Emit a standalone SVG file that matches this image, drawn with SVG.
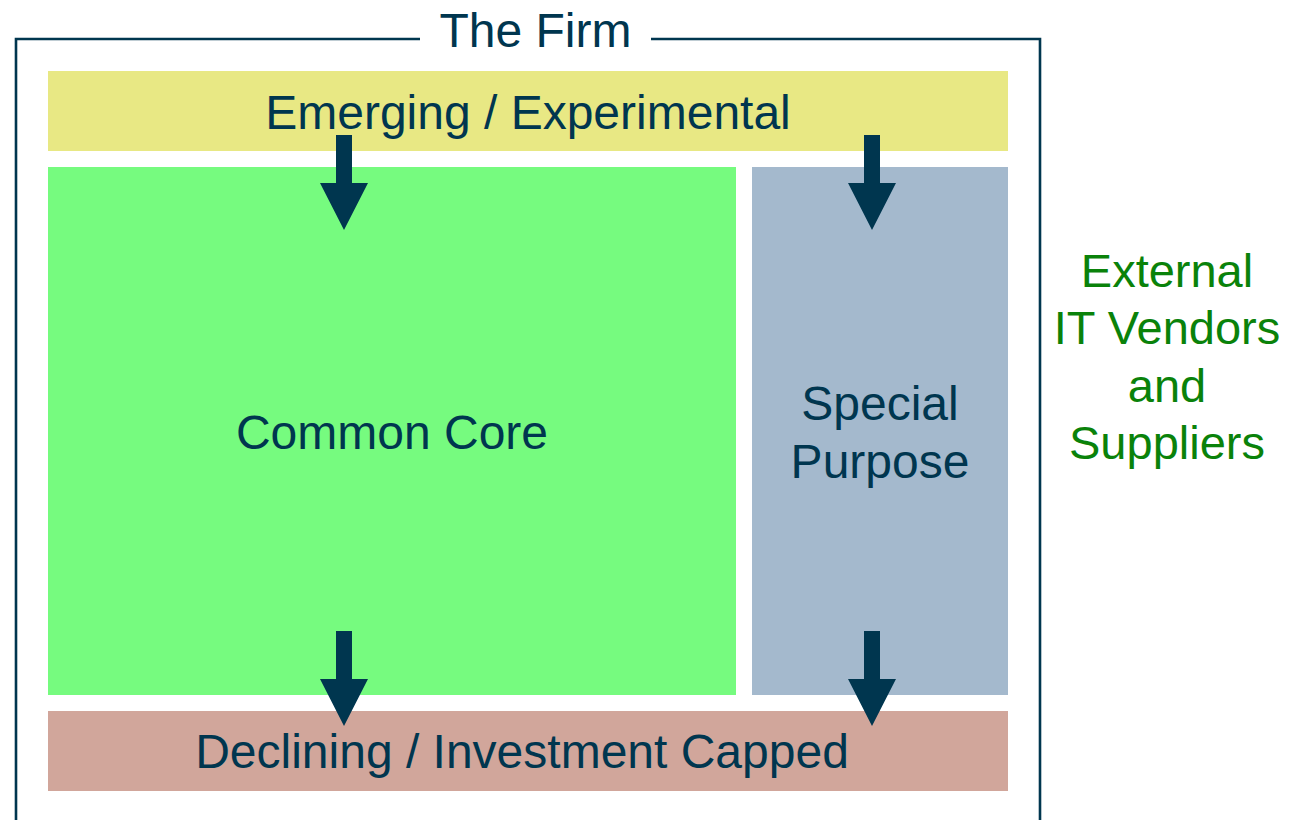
<svg xmlns="http://www.w3.org/2000/svg" width="1303" height="820" viewBox="0 0 1303 820">
  <defs>
    <style>
      .lbl { font-family: "Liberation Sans", Arial, sans-serif; font-size: 48px; fill: #00364F; text-anchor: middle; }
      .ext { font-family: "Liberation Sans", Arial, sans-serif; font-size: 47px; fill: #0A820A; text-anchor: middle; }
      .frame { fill: none; stroke: #00364F; stroke-width: 2.6; }
      .arrow { fill: #00364F; }
    </style>
    <path id="arr" d="M -8 0 H 8 V 48 H 24 L 0 95 L -24 48 H -8 Z"/>
  </defs>
  <rect width="1303" height="820" fill="#FFFFFF"/>

  <g id="firm">
    <path class="frame" d="M 420 39 H 16 V 830 M 651 39 H 1040 V 830"/>
    <text class="lbl" x="535.5" y="47">The Firm</text>
  </g>

  <g id="emerging">
    <rect x="48" y="71" width="960" height="80" fill="#E8E884"/>
    <text class="lbl" x="528" y="129">Emerging / Experimental</text>
  </g>

  <g id="common-core">
    <rect x="48" y="167" width="688" height="528" fill="#76FB7F"/>
    <text class="lbl" x="392" y="449">Common Core</text>
  </g>

  <g id="special-purpose">
    <rect x="752" y="167" width="256" height="528" fill="#A4B9CD"/>
    <text class="lbl" x="880" y="420">Special</text>
    <text class="lbl" x="880" y="478">Purpose</text>
  </g>

  <g id="declining">
    <rect x="48" y="711" width="960" height="80" fill="#D1A69B"/>
    <text class="lbl" x="522" y="768">Declining / Investment Capped</text>
  </g>

  <g id="external">
    <text class="ext" x="1167" y="287">External</text>
    <text class="ext" x="1167" y="344">IT Vendors</text>
    <text class="ext" x="1167" y="402">and</text>
    <text class="ext" x="1167" y="459">Suppliers</text>
  </g>

  <g id="connectors" class="arrow">
    <use href="#arr" x="344" y="135"/>
    <use href="#arr" x="872" y="135"/>
    <use href="#arr" x="344" y="631"/>
    <use href="#arr" x="872" y="631"/>
  </g>
</svg>
